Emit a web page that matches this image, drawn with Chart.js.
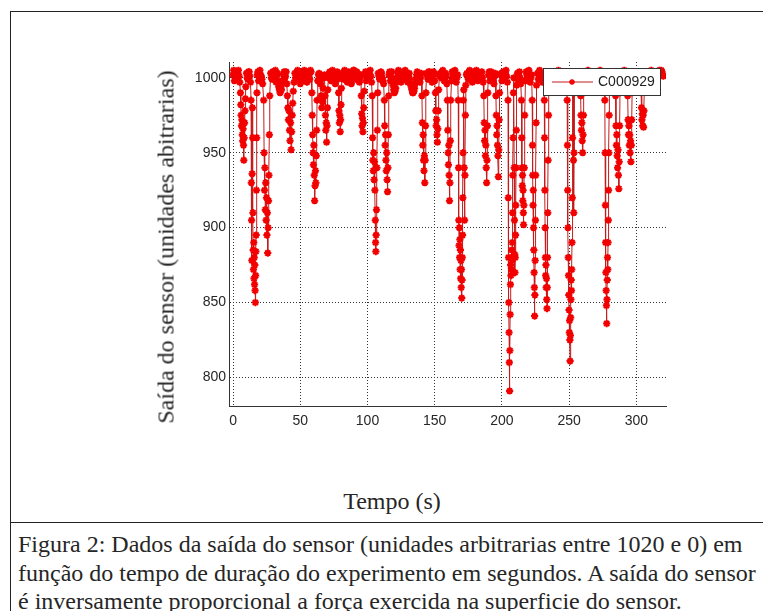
<!DOCTYPE html>
<html lang="pt">
<head>
<meta charset="utf-8">
<title>Saída do sensor</title>
<script src="https://cdn.jsdelivr.net/npm/chart.js@4.4.1/dist/chart.umd.min.js"></script>
<style>
  html, body { margin: 0; padding: 0; background: #fff; }
  body { width: 763px; height: 611px; position: relative; overflow: hidden; }
  .linha { position: absolute; background: #222; }
  #grafico { position: absolute; left: 0; top: 0; width: 763px; height: 440px; }
  .txt { position: absolute; font-family: "Liberation Serif", "DejaVu Serif", serif; color: #262626; white-space: nowrap; }
  #ytitulo { left: 166px; top: 247px; font-size: 24px; transform: translate(-50%, -50%) rotate(-90deg); }
  #xtitulo { left: 392px; top: 501px; font-size: 24px; transform: translate(-50%, -50%); }
  #legenda { left: 18px; top: 530px; font-size: 24px; line-height: 28.5px; }
</style>
</head>
<body>
<div class="linha" style="left:10px;top:11px;width:753px;height:1px"></div>
<div class="linha" style="left:10px;top:11px;width:1px;height:600px"></div>
<div class="linha" style="left:10px;top:522px;width:753px;height:1px"></div>

<div id="grafico"><canvas id="cv"></canvas></div>
<div class="txt" id="ytitulo">Saída do sensor (unidades abitrarias)</div>
<div class="txt" id="xtitulo">Tempo (s)</div>
<div class="txt" id="legenda">Figura 2: Dados da saída do sensor (unidades arbitrarias entre 1020 e 0) em<br>função do tempo de duração do experimento em segundos. A saída do sensor<br>é inversamente proporcional a força exercida na superficie do sensor.</div>

<script>
// tempo (s) e saída do sensor, trecho a trecho
// (linhas alternam: patamar perto de 1000 / vale quando o sensor é apertado)
const tempo = [
  0, 0.5, 1, 1.5, 2, 2.5, 3, 3.5, 4, 4.5, 5,
  5.5, 5.8, 6.0, 6.3, 6.6, 6.9, 7.2, 7.5, 7.8, 8.0, 8.3, 8.6, 8.9, 9.2, 9.5,
  10, 10.5, 11, 11.5, 12, 12.5, 13,
  13.4, 13.6, 13.8, 14.0, 14.2, 14.4, 14.6, 14.8, 15.0, 15.2, 15.4, 15.6, 15.8, 16.0, 16.2, 16.4, 16.6, 16.8, 17.0, 17.2, 17.4, 17.6, 17.8,
  18, 18.5, 19, 19.5, 20, 20.5, 21, 21.5, 22,
  22.8, 23.1, 23.4, 23.7, 24.0, 24.3, 24.6, 24.9, 25.2, 25.5, 25.8, 26.1, 26.4, 26.7, 27.0, 27.3,
  28, 28.5, 29, 29.5, 30, 30.5, 31, 31.5, 32, 32.5, 33, 33.5, 34, 34.5, 35, 35.5, 36, 36.5, 37, 37.5, 38, 38.5, 39, 39.5, 40,
  40.4, 40.8, 41.2, 41.6, 42.0, 42.4, 42.8, 43.2, 43.6, 44.0, 44.4, 44.8,
  45.4, 46, 46.5, 47, 47.5, 48, 48.5, 49, 49.5, 50, 50.5, 51, 51.5, 52, 52.5, 53, 53.5, 54, 54.5, 55, 55.5, 56, 56.5, 57, 57.5, 58,
  58.6, 58.9, 59.2, 59.5, 59.8, 60.1, 60.4, 60.7, 61.0, 61.3, 61.6, 61.9, 62.2, 62.5,
  63, 63.5, 64, 64.5, 65, 65.5, 66, 66.5, 67, 67.5, 68,
  68.4, 68.7, 69.0, 69.3, 69.6, 69.9, 70.2, 70.5,
  71, 71.5, 72, 72.5, 73, 73.5, 74, 74.5, 75, 75.5, 76, 76.5, 77, 77.5, 78,
  78.5, 78.8, 79.1, 79.4, 79.7, 80.0, 80.3, 80.6,
  81, 81.5, 82, 82.5, 83, 83.5, 84, 84.5, 85, 85.5, 86, 86.5, 87, 87.5, 88, 88.5, 89, 89.5, 90, 90.5, 91, 91.5, 92, 92.5, 93, 93.5, 94, 94.5, 95,
  95.4, 95.7, 96.0, 96.3, 96.6, 96.9, 97.2, 97.5,
  98, 98.5, 99, 99.5, 100, 100.5, 101, 101.5, 102, 102.5, 103,
  103.5, 103.8, 104.0, 104.3, 104.6, 104.9, 105.2, 105.5, 105.8, 106.0, 106.2, 106.4, 106.7, 107.0, 107.3, 107.6,
  108, 108.5, 109, 109.5, 110, 110.5, 111, 111.5, 112,
  112.5, 112.8, 113.1, 113.4, 113.7, 114.0, 114.3, 114.6, 114.9, 115.2, 115.5, 115.8,
  116, 116.5, 117, 117.5, 118, 118.5, 119, 119.5, 120, 120.5, 121, 121.5, 122, 122.5, 123, 123.5, 124, 124.5, 125, 125.5, 126, 126.5, 127, 127.5, 128,
  128.5, 129, 129.5, 130, 130.5, 131, 131.5, 132, 132.5, 133, 133.5, 134, 134.5, 135, 135.5, 136, 136.5, 137, 137.5, 138, 138.5, 139, 139.5, 140,
  140.5, 140.8, 141.1, 141.4, 141.7, 142.0, 142.3, 142.6, 142.9, 143.2, 143.5,
  144, 144.5, 145, 145.5, 146, 146.5, 147, 147.5, 148, 148.5, 149, 149.5, 150,
  150.5, 150.8, 151.1, 151.4, 151.7, 152.0, 152.3, 152.6, 152.9,
  153.5, 154, 154.5, 155, 155.5, 156, 156.5, 157, 157.5, 158, 158.5, 159,
  159.4, 159.7, 160.0, 160.2, 160.5, 160.7, 161.0, 161.3, 161.6, 161.9,
  162.5, 163, 163.5, 164, 164.5, 165, 165.5, 166, 166.5, 167,
  167.5, 167.7, 167.9, 168.1, 168.3, 168.5, 168.7, 168.9, 169.1, 169.3, 169.5, 169.7, 169.9, 170.1, 170.3, 170.5, 170.7, 170.9, 171.1, 171.3, 171.6, 171.9, 172.2, 172.5, 172.8, 173.1,
  173.6, 174, 174.5, 175, 175.5, 176, 176.5, 177, 177.5, 178, 178.5, 179, 179.5, 180, 180.5, 181, 181.5, 182, 182.5, 183, 183.5, 184, 184.5, 185, 185.5, 186,
  186.5, 186.8, 187.1, 187.4, 187.7, 188.0, 188.3, 188.6, 188.9, 189.2, 189.5,
  190, 190.5, 191, 191.5, 192, 192.5, 193, 193.5, 194, 194.5, 195,
  195.5, 195.8, 196.1, 196.4, 196.7, 197.0, 197.3, 197.6, 197.9, 198.2,
  199, 199.5, 200, 200.5, 201, 201.5, 202, 202.5, 203, 203.5, 204,
  204.5, 204.7, 204.9, 205.1, 205.3, 205.5, 205.7, 205.9, 206.1, 206.3, 206.5, 206.7, 206.9, 207.1, 207.3, 207.5, 207.7, 207.9, 208.1, 208.3, 208.5, 208.8, 209.1, 209.3, 209.5, 209.7, 209.9, 210.1, 210.3, 210.5, 210.7, 210.9,
  211.5, 212, 212.5, 213, 213.5, 214,
  214.5, 214.7, 214.9, 215.1, 215.3, 215.5, 215.7, 215.9, 216.1, 216.3, 216.6, 216.9,
  217.5, 218, 218.5, 219, 219.5, 220, 220.5, 221, 221.5, 222,
  222.5, 222.7, 222.9, 223.1, 223.3, 223.5, 223.7, 223.9, 224.1, 224.3, 224.5, 224.7, 224.9, 225.1, 225.4, 225.7,
  226.5, 227, 227.5, 228, 228.5, 229, 229.5, 230, 230.5, 231,
  231.5, 231.7, 231.9, 232.1, 232.3, 232.5, 232.7, 232.9, 233.1, 233.3, 233.5, 233.7, 233.9, 234.1, 234.3, 234.6, 234.9,
  235.5, 236, 236.5, 237, 237.5, 238, 238.5, 239, 239.5, 240, 240.5, 241, 241.5, 242, 242.5, 243, 243.5, 244, 244.5, 245, 245.5, 246, 246.5, 247, 247.5, 248,
  248.5, 248.7, 248.9, 249.1, 249.3, 249.5, 249.7, 249.9, 250.1, 250.3, 250.5, 250.7, 250.9, 251.1, 251.3, 251.5, 251.7, 251.9, 252.1, 252.3, 252.5, 252.7, 253.0, 253.2, 253.4, 253.6, 253.9,
  254.5, 255, 255.5, 256, 256.5, 257, 257.5, 258,
  258.5, 258.8, 259.1, 259.4, 259.7, 260.0, 260.3, 260.6, 260.9,
  261.5, 262, 262.5, 263, 263.5, 264, 264.5, 265, 265.5, 266, 266.5, 267, 267.5, 268, 268.5, 269, 269.5, 270, 270.5, 271, 271.5, 272, 272.5, 273, 273.5, 274, 274.5, 275, 275.5, 276,
  276.5, 276.7, 276.9, 277.1, 277.3, 277.5, 277.7, 277.9, 278.1, 278.3, 278.5, 278.7, 278.9, 279.1, 279.3, 279.5, 279.7, 279.9,
  280.5, 281, 281.5, 282, 282.5, 283, 283.5, 284,
  284.5, 284.8, 285.1, 285.4, 285.7, 286.0, 286.3, 286.6, 286.9, 287.2, 287.5, 287.8,
  288.5, 289, 289.5, 290, 290.5, 291, 291.5, 292, 292.5, 293,
  293.5, 293.8, 294.1, 294.4, 294.7, 295.0, 295.3, 295.6, 295.9, 296.2, 296.5, 296.8,
  297.3, 298, 298.5, 299, 299.5, 300, 300.5, 301, 301.5, 302, 302.5, 303,
  303.5, 303.8, 304.1, 304.4, 304.7, 305.0, 305.3, 305.6, 305.9,
  306.5, 307, 307.5, 308, 308.5, 309, 309.5, 310, 310.5, 311, 311.5, 312, 312.5, 313, 313.5, 314, 314.5, 315, 315.5, 316, 316.5, 317, 317.5, 318, 318.5, 319, 319.5, 320
];
const saida = [
  1002, 1005, 998, 1001, 1004, 999, 1000, 1003, 1005, 1001, 997,
  990, 982, 975, 968, 972, 962, 958, 966, 955, 945, 960, 970, 978, 986, 994,
  1003, 1000, 999, 1004, 1004, 1001, 997,
  985, 930, 905, 878, 936, 980, 960, 910, 885, 872, 890, 866, 880, 862, 875, 858, 850, 868, 884, 895, 925, 960, 990,
  1002, 1004, 998, 1001, 1005, 1002, 1001, 999, 996,
  985, 950, 925, 940, 912, 930, 905, 920, 895, 910, 883, 900, 918, 935, 962, 988,
  1003, 1000, 999, 1004, 1004, 1001, 1000, 1005, 997, 1001, 1003, 998, 994, 992, 990, 993, 992, 996, 998, 1002, 1004, 1000, 1001, 1004, 996,
  988, 980, 972, 978, 965, 958, 970, 952, 964, 975, 983, 991,
  997, 1003, 1000, 999, 1004, 1005, 1001, 1000, 1003, 996, 999, 1004, 1001, 998, 1003, 1005, 1000, 1001, 1004, 997, 1002, 1003, 999, 999, 1005, 1004,
  990, 975, 962, 950, 942, 955, 935, 918, 928, 938, 930, 948, 965, 985,
  998, 1002, 1003, 999, 996, 988, 980, 984, 993, 1000, 1002,
  988, 975, 965, 970, 957, 968, 980, 992,
  1000, 1003, 1004, 1001, 998, 1002, 1005, 1003, 1000, 998, 996, 1001, 1003, 1004, 999,
  990, 978, 970, 975, 964, 972, 982, 993,
  1003, 1001, 999, 1004, 1005, 1002, 1001, 998, 997, 1000, 1004, 1003, 1000, 997, 996, 1001, 1003, 1005, 1005, 1002, 999, 1001, 1004, 1003, 1000, 998, 997, 1000, 1002,
  988, 976, 968, 973, 964, 970, 980, 991,
  1002, 1004, 998, 1001, 1004, 1003, 1000, 1002, 1005, 1001, 997,
  988, 960, 945, 938, 950, 932, 944, 925, 905, 890, 884, 895, 912, 940, 965, 990,
  1003, 1001, 999, 1002, 1004, 1003, 1000, 998, 996,
  985, 968, 955, 962, 945, 938, 950, 932, 924, 940, 962, 988,
  1002, 1004, 998, 1001, 1004, 999, 995, 992, 990, 991, 993, 997, 1000, 1003, 1005, 1002, 1001, 999, 997, 1001, 1004, 1002, 999, 1003, 1005,
  1002, 1000, 998, 997, 1001, 1003, 999, 996, 994, 992, 990, 990, 991, 993, 996, 999, 1002, 1004, 1003, 1000, 1002, 997, 1000, 1003,
  988, 970, 955, 962, 945, 938, 948, 930, 945, 968, 990,
  1003, 1001, 999, 1004, 1004, 1002, 1001, 999, 997, 1001, 1004, 1003, 998,
  990, 978, 968, 972, 962, 957, 966, 978, 992,
  1001, 1003, 1001, 1000, 1004, 1005, 1002, 998, 1000, 1003, 1001, 996,
  985, 965, 950, 942, 955, 935, 918, 930, 958, 985,
  998, 1004, 1002, 1000, 1003, 1005, 1001, 997, 1000, 1002,
  985, 940, 905, 888, 900, 880, 892, 872, 885, 866, 878, 860, 872, 853, 865, 880, 895, 920, 950, 985, 992, 940, 905, 935, 975, 995,
  1002, 1003, 1001, 999, 1004, 1005, 1002, 1001, 998, 997, 1001, 1004, 1003, 1000, 1004, 1005, 1001, 998, 1000, 1003, 1002, 999, 1003, 1004, 1000, 997,
  988, 970, 958, 965, 948, 955, 940, 930, 945, 968, 990,
  1002, 1004, 998, 1001, 1004, 1003, 1000, 998, 996, 1001, 1003,
  988, 975, 962, 968, 955, 948, 934, 952, 972, 990,
  1002, 1003, 998, 1001, 1004, 1002, 1000, 1003, 1005, 1001, 997,
  985, 920, 880, 850, 830, 810, 791, 818, 842, 862, 875, 868, 880, 872, 885, 878, 890, 910, 935, 960, 990, 1000, 940, 905, 882, 870, 880, 895, 915, 940, 965, 995,
  1003, 998, 1001, 1004, 1000, 996,
  985, 960, 940, 928, 935, 918, 925, 910, 902, 915, 940, 975,
  998, 1004, 1002, 1000, 1003, 1005, 1001, 997, 1000, 1002,
  985, 955, 935, 915, 925, 900, 885, 870, 860, 841, 855, 878, 905, 935, 970, 995,
  1003, 999, 1002, 1005, 1003, 1001, 999, 997, 1000, 1003,
  985, 960, 925, 900, 880, 868, 875, 860, 866, 852, 846, 860, 880, 910, 945, 975, 995,
  1000, 1003, 1001, 999, 1004, 1004, 1001, 1000, 998, 996, 1000, 1003, 1004, 1005, 1002, 999, 1001, 1004, 1003, 1000, 999, 997, 1001, 1003, 1000, 998,
  985, 955, 925, 900, 880, 868, 855, 845, 830, 838, 825, 811, 828, 840, 852, 865, 858, 872, 890, 920, 960, 990, 995, 945, 910, 950, 990,
  1002, 998, 1001, 1004, 1002, 1000, 999, 996,
  988, 975, 965, 970, 958, 950, 962, 975, 990,
  1000, 1004, 1002, 999, 1003, 1005, 1002, 1001, 999, 997, 1000, 1003, 1002, 999, 1001, 1004, 1003, 1000, 998, 996, 1000, 1003, 1004, 1005, 1001, 999, 1002, 1004, 1000, 997,
  985, 950, 915, 890, 870, 858, 848, 836, 852, 865, 880, 872, 890, 905, 925, 950, 975, 995,
  1002, 998, 1001, 1004, 1003, 1000, 999, 996,
  988, 968, 955, 962, 948, 940, 952, 935, 926, 944, 968, 990,
  1000, 1004, 1002, 999, 1003, 1005, 1001, 997, 1000, 1003,
  988, 972, 962, 968, 955, 962, 950, 958, 944, 955, 972, 990,
  1000, 1003, 1001, 999, 1004, 1004, 1002, 1000, 999, 997, 1001, 1003,
  990, 980, 972, 976, 968, 975, 967, 978, 992,
  1001, 1002, 1004, 998, 1001, 1004, 1003, 1000, 1002, 1005, 1001, 997, 1000, 1003, 1001, 999, 1002, 1004, 1003, 1001, 1004, 1005, 1003, 1002, 1005, 1004, 1002, 1001
];
const rotuloSerie = "C000929";
const ticksTempo = [0, 50, 100, 150, 200, 250, 300];
const ticksSaida = [800, 850, 900, 950, 1000];

if (tempo.length !== saida.length) console.error("tamanhos diferentes", tempo.length, saida.length);

const fonteEixo = { family: "'Liberation Sans', Arial, sans-serif", size: 14 };

// caixa de legenda no canto superior direito, por cima dos dados (como no MATLAB)
const legendaCaixa = {
  id: "legendaCaixa",
  afterDatasetsDraw(chart) {
    const { ctx, chartArea } = chart;
    const ds = chart.data.datasets[0];
    const w = 117, h = 27;
    const x = Math.round(chartArea.right - 6 - w), y = Math.round(chartArea.top + 6);
    const cy = y + h / 2;
    ctx.save();
    ctx.fillStyle = "#fff";
    ctx.fillRect(x, y, w, h);
    ctx.strokeStyle = "#333";
    ctx.lineWidth = 1;
    ctx.strokeRect(x + 0.5, y + 0.5, w, h);
    ctx.strokeStyle = ds.borderColor;
    ctx.beginPath();
    ctx.moveTo(x + 9, cy + 0.5);
    ctx.lineTo(x + 50, cy + 0.5);
    ctx.stroke();
    ctx.strokeStyle = ds.pointBorderColor;
    ctx.fillStyle = ds.pointBackgroundColor;
    ctx.lineWidth = 1.4;
    Chart.helpers.drawPoint(ctx, { pointStyle: ds.pointStyle, radius: 3, rotation: 0, borderWidth: 1.4 }, x + 29, cy + 0.5);
    ctx.fillStyle = "#222";
    ctx.font = "14px 'Liberation Sans', Arial, sans-serif";
    ctx.textBaseline = "middle";
    ctx.fillText(ds.label, x + 55, cy + 1);
    ctx.restore();
  }
};

new Chart(document.getElementById("cv"), {
  type: "line",
  data: {
    datasets: [{
      label: rotuloSerie,
      data: tempo.map((t, i) => ({ x: t, y: saida[i] })),
      borderColor: "#c41c1c",
      borderWidth: 1,
      pointStyle: "star",
      pointRadius: 3.6,
      pointBorderWidth: 2,
      pointBorderColor: "#f20000",
      pointBackgroundColor: "#f20000",
      tension: 0,
      fill: false
    }]
  },
  options: {
    responsive: true,
    maintainAspectRatio: false,
    animation: false,
    events: [],
    layout: { padding: { left: 150, right: 97, top: 62, bottom: 0 } },
    plugins: { legend: { display: false }, tooltip: { enabled: false } },
    scales: {
      x: {
        type: "linear",
        min: -3,
        max: 322,
        afterBuildTicks: (s) => { s.ticks = ticksTempo.map(v => ({ value: v })); },
        afterFit: (s) => { s.height = 34; },
        grid: { color: "#333", lineWidth: 1, drawTicks: false },
        border: { display: true, color: "#333", width: 1, dash: [1, 2] },
        ticks: { font: fonteEixo, color: "#262626", padding: 7, maxRotation: 0, callback: v => String(v) }
      },
      y: {
        type: "linear",
        min: 781,
        max: 1010.5,
        afterBuildTicks: (s) => { s.ticks = ticksSaida.map(v => ({ value: v })); },
        afterFit: (s) => { s.width = 79; },
        grid: { color: "#333", lineWidth: 1, drawTicks: false },
        border: { display: true, color: "#333", width: 1, dash: [1, 2] },
        ticks: { font: fonteEixo, color: "#262626", padding: 3, callback: v => String(v) }
      }
    }
  },
  plugins: [legendaCaixa]
});
</script>
</body>
</html>
